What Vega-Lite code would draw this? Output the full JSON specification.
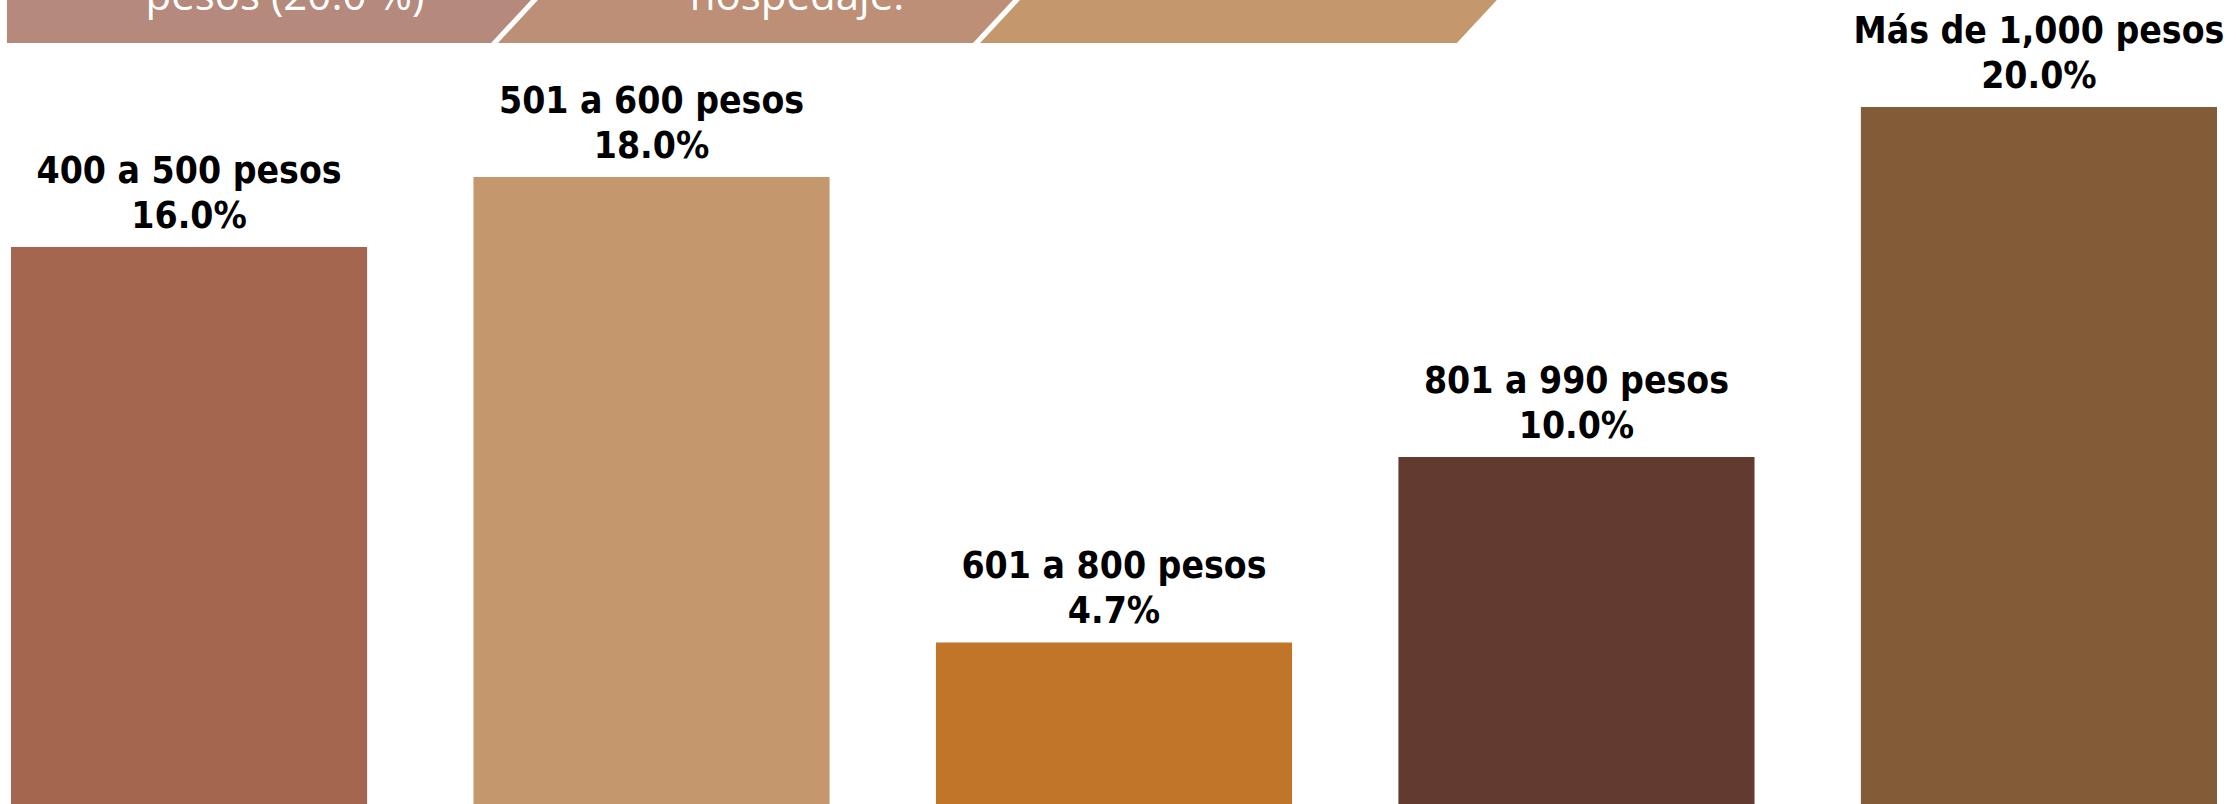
{
  "$schema": "https://vega.github.io/schema/vega-lite/v6.json",
  "autosize": "none",
  "padding": 0,
  "width": 2228,
  "height": 807,
  "background": "white",
  "config": {"view": {"stroke": null}},
  "datasets": {
    "bars": [
      {"rango": "400 a 500 pesos", "pct": 16.0},
      {"rango": "501 a 600 pesos", "pct": 18.0},
      {"rango": "601 a 800 pesos", "pct": 4.7},
      {"rango": "801 a 990 pesos", "pct": 10.0},
      {"rango": "Más de 1,000 pesos", "pct": 20.0}
    ],
    "banners": [
      {"banner": "b1", "v": 21.83, "xl": 0.31, "xr": 22.04},
      {"banner": "b1", "v": 23.5, "xl": 0.31, "xr": 24.48},
      {"banner": "b2", "v": 21.83, "xl": 22.35, "xr": 43.67},
      {"banner": "b2", "v": 23.5, "xl": 24.79, "xr": 46.11},
      {"banner": "b3", "v": 21.83, "xl": 43.99, "xr": 65.39},
      {"banner": "b3", "v": 23.5, "xl": 46.43, "xr": 67.83}
    ],
    "bannerText": [
      {"t": "pesos (20.0 %)", "xc": 12.79, "v": 22.76},
      {"t": "hospedaje.", "xc": 35.77, "v": 22.76}
    ]
  },
  "layer": [
    {
      "data": {"name": "bars"},
      "encoding": {
        "x": {"field": "rango", "type": "nominal", "sort": null, "axis": null,
              "scale": {"paddingInner": 0.23, "paddingOuter": 0.0238}},
        "y": {"field": "pct", "type": "quantitative", "axis": null,
              "scale": {"domain": [0, 23.057], "nice": false, "zero": true}}
      },
      "layer": [
        {
          "mark": {"type": "bar", "clip": true},
          "encoding": {
            "color": {"field": "rango", "type": "nominal", "sort": null, "legend": null,
                      "scale": {"domain": ["400 a 500 pesos", "501 a 600 pesos", "601 a 800 pesos", "801 a 990 pesos", "Más de 1,000 pesos"],
                                "range": ["#A5664F", "#C4986C", "#C07528", "#633A2F", "#825B37"]}}
          }
        },
        {
          "transform": [{"calculate": "[datum.rango, format(datum.pct, '.1f') + '%']", "as": "lbl"}],
          "mark": {"type": "text", "baseline": "alphabetic", "align": "center", "dy": -64,
                   "font": "DejaVu Sans Condensed, DejaVu Sans", "fontWeight": "bold",
                   "fontSize": 37, "lineHeight": 45, "color": "#000000"},
          "encoding": {"text": {"field": "lbl"}}
        }
      ]
    },
    {
      "data": {"name": "banners"},
      "mark": {"type": "area", "orient": "horizontal", "clip": true},
      "encoding": {
        "y": {"field": "v", "type": "quantitative", "axis": null},
        "x": {"field": "xl", "type": "quantitative", "axis": null,
              "scale": {"domain": [0, 100], "nice": false, "zero": false}},
        "x2": {"field": "xr"},
        "color": {"field": "banner", "type": "nominal", "legend": null,
                  "scale": {"domain": ["b1", "b2", "b3"], "range": ["#B58A7D", "#BC8F76", "#C4986C"]}}
      }
    },
    {
      "data": {"name": "bannerText"},
      "mark": {"type": "text", "clip": true, "align": "center", "baseline": "alphabetic",
               "font": "Open Sans", "fontSize": 42, "color": "#FFFFFF"},
      "encoding": {
        "y": {"field": "v", "type": "quantitative", "axis": null},
        "x": {"field": "xc", "type": "quantitative", "axis": null,
              "scale": {"domain": [0, 100], "nice": false, "zero": false}},
        "text": {"field": "t"}
      }
    }
  ],
  "resolve": {"scale": {"x": "independent", "color": "independent"}}
}
